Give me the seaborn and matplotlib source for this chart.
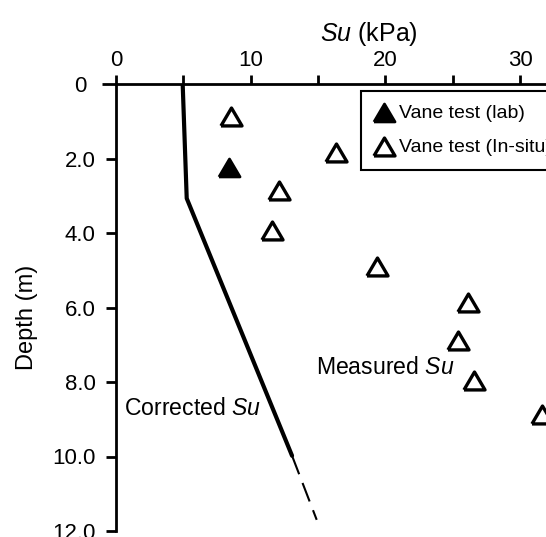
import matplotlib
matplotlib.use("Agg")
import matplotlib.pyplot as plt
import matplotlib.transforms as mtransforms
import numpy as np
import pandas as pd
import seaborn as sns

# Measured undrained shear strength
insitu_su = [8.54, 16.3, 12.1, 11.6, 19.4, 26.1, 25.4, 26.6, 31.6]
insitu_depth = [0.88, 1.84, 2.87, 3.95, 4.90, 5.87, 6.90, 7.98, 8.89]
lab_su = [8.42]
lab_depth = [2.26]

# Corrected Su profile (solid part, then dashed extrapolation)
corr_su = [4.95, 5.25, 13.07]
corr_depth = [0.0, 3.07, 9.98]
ext_su = [13.07, 14.9]
ext_depth = [9.98, 11.7]

x_major = [0, 10, 20, 30]
x_minor = [5, 15, 25]
y_ticks = [0, 2, 4, 6, 8, 10, 12]
y_labels = ["0", "2.0", "4.0", "6.0", "8.0", "10.0", "12.0"]

sns.set_style("ticks")
plt.rcParams["font.family"] = ["Liberation Sans", "DejaVu Sans"]
plt.rcParams["mathtext.fontset"] = "custom"
plt.rcParams["mathtext.it"] = "Liberation Sans:italic"
plt.rcParams["mathtext.rm"] = "Liberation Sans"
plt.rcParams["text.color"] = "black"
plt.rcParams["axes.labelcolor"] = "black"

# equilateral-ish triangle marker
tri = [(-1.0, -0.8), (1.0, -0.8), (0.0, 0.9), (-1.0, -0.8)]

fig = plt.figure(figsize=(5.46, 5.37), dpi=100)
ax = fig.add_axes([116 / 546, 6 / 537, 430 / 546, 447 / 537])

sns.lineplot(x=corr_su, y=corr_depth, ax=ax, color="black", linewidth=3.0,
             sort=False, estimator=None)
sns.lineplot(x=ext_su, y=ext_depth, ax=ax, color="black", linewidth=1.5,
             sort=False, estimator=None, linestyle=(0, (9.5, 4.5)))

sns.scatterplot(x=lab_su, y=lab_depth, ax=ax, marker=tri, s=230,
                color="black", edgecolor="black", linewidth=2.0,
                label="Vane test (lab)", zorder=3)
sns.scatterplot(x=insitu_su, y=insitu_depth, ax=ax, marker=tri, s=230,
                facecolor="white", edgecolor="black", linewidth=2.4,
                label="Vane test (In-situ)", zorder=3)

ax.set_xlim(0, 430 / 13.47)
ax.set_ylim(12, 0)

ax.xaxis.tick_top()
ax.xaxis.set_label_position("top")
ax.set_xticks(x_major)
ax.set_xticks(x_minor, minor=True)
ax.set_yticks(y_ticks)
ax.set_yticklabels(y_labels)
ax.tick_params(axis="x", which="both", direction="out", length=6.5, width=2,
               labelsize=16, pad=3, colors="black")
ax.tick_params(axis="y", direction="out", length=7.5, width=2,
               labelsize=16, pad=7, colors="black")

for side in ["right", "bottom"]:
    ax.spines[side].set_visible(False)
for side in ["left", "top"]:
    ax.spines[side].set_linewidth(2)
    ax.spines[side].set_color("black")

# the "0" depth tick is a bit longer and its label sits further left
t0 = ax.yaxis.get_major_ticks()[0]
t0.tick1line.set_markersize(10)
t0.label1.set_transform(t0.label1.get_transform()
                        + mtransforms.ScaledTranslation(-0.09, 0, fig.dpi_scale_trans))

ax.set_xlabel("$Su$ (kPa)", fontsize=18)
ax.xaxis.set_label_coords((369 - 116) / 430, 1 + (84 - 34) / 447,
                          transform=ax.transAxes)
ax.xaxis.label.set_va("center")
ax.set_ylabel("Depth (m)", fontsize=17)
ax.yaxis.set_label_coords(-(116 - 27) / 430, (531 - 317) / 447)
ax.yaxis.label.set_va("center")

ax.text(10.8, 8.7, "Corrected $Su$", fontsize=16.6, ha="right", va="center")
ax.text(14.85, 7.6, "Measured $Su$", fontsize=16.6, ha="left", va="center")

leg = ax.legend(loc="upper left", bbox_to_anchor=((361 - 116) / 430, 1 - 7 / 447),
                frameon=True, fancybox=False, framealpha=1, fontsize=14,
                borderpad=0.7, labelspacing=0.85, handlelength=1.0,
                handletextpad=0.25, borderaxespad=0)
leg.get_frame().set_edgecolor("black")
leg.get_frame().set_linewidth(1.5)

fig.savefig("out.png", dpi=100)
